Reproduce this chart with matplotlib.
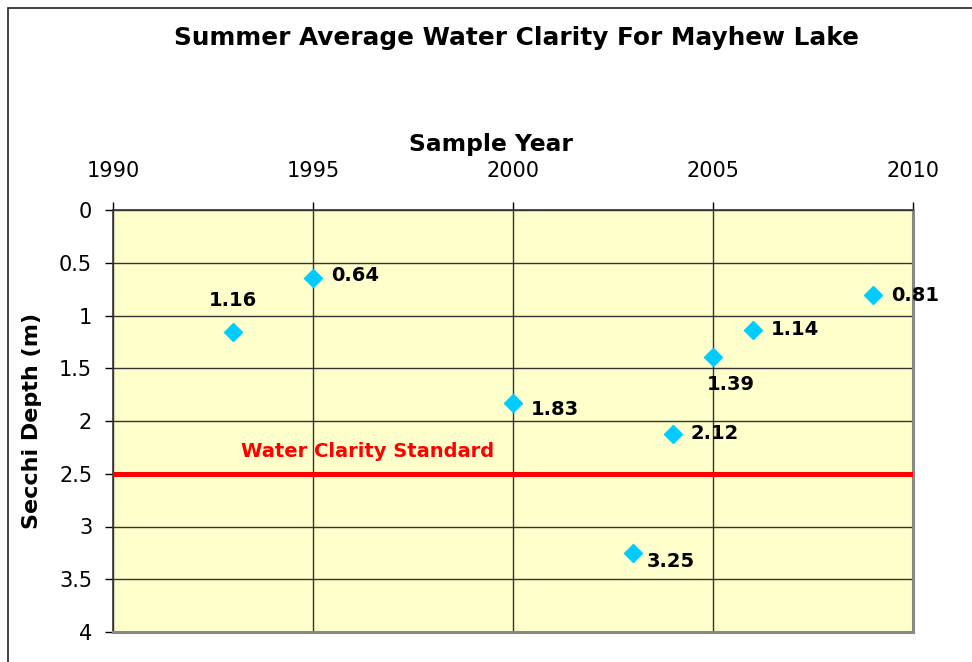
import matplotlib
matplotlib.use("Agg")
import matplotlib.pyplot as plt
from matplotlib.patches import Rectangle

plt.rcParams['font.family'] = ['DejaVu Sans']

years = [1993, 1995, 2000, 2003, 2004, 2005, 2006, 2009]
depths = [1.16, 0.64, 1.83, 3.25, 2.12, 1.39, 1.14, 0.81]
label_offsets = [(0, 32), (18, 2), (18, -6), (14, -9), (18, 0), (18, -28), (18, 1), (18, 0)]
label_ha = ['center', 'left', 'left', 'left', 'left', 'center', 'left', 'left']
standard = 2.5
x_ticks = [1990, 1995, 2000, 2005, 2010]
y_ticks = [0, 0.5, 1, 1.5, 2, 2.5, 3, 3.5, 4]
y_tick_labels = ['0', '0.5', '1', '1.5', '2', '2.5', '3', '3.5', '4']

W, H = 972, 662
fig = plt.figure(figsize=(W / 100, H / 100), dpi=100)
fig.patch.set_facecolor('white')

# outer chart border (left and top visible)
fig.patches.append(Rectangle((8 / W, -0.1), 1.2, (H - 8) / H + 0.1,
                             transform=fig.transFigure, fill=False,
                             edgecolor='#222222', linewidth=1.2, zorder=0))

ax = fig.add_axes([113 / W, 1 - 632 / H, 800 / W, 422 / H])
ax.set_facecolor('#FFFFCC')
ax.set_xlim(1990, 2010)
ax.set_ylim(4, 0)
ax.set_xticks(x_ticks)
ax.set_yticks(y_ticks)
ax.set_yticklabels(y_tick_labels)
ax.xaxis.tick_top()
ax.xaxis.set_label_position('top')
ax.tick_params(axis='x', direction='out', length=6, width=1, pad=15, labelsize=15, colors='black')
ax.tick_params(axis='y', direction='out', length=6, width=1, pad=9, labelsize=15, colors='black')
ax.grid(True, color='#333333', linewidth=1)
ax.set_axisbelow(True)

for side in ['top', 'left']:
    ax.spines[side].set_color('#333333')
    ax.spines[side].set_linewidth(1.2)
for side in ['right', 'bottom']:
    ax.spines[side].set_color('#888888')
    ax.spines[side].set_linewidth(2.2)

ax.axhline(standard, color='#FF0000', linewidth=3.6, zorder=3)
ax.text(1993.2, standard - 0.12, 'Water Clarity Standard', color='#FF0000',
        fontsize=14, fontweight='bold', ha='left', va='bottom', zorder=4)

ax.plot(years, depths, linestyle='none', marker='D', markersize=9,
        color='#00CCFF', markeredgecolor='#00CCFF', zorder=5, clip_on=False)

for x, y, off, ha in zip(years, depths, label_offsets, label_ha):
    ax.annotate(f'{y:.2f}', (x, y), xytext=off, textcoords='offset pixels',
                ha=ha, va='center', fontsize=14, fontweight='bold', color='black', zorder=6)

ax.set_xlabel('Sample Year', fontsize=16.8, fontweight='bold', labelpad=7)
ax.xaxis.label.set_x((491 - 113) / 800)
ax.set_ylabel('Secchi Depth (m)', fontsize=16, fontweight='bold', labelpad=12)

fig.text(517 / W, 1 - 38 / H, 'Summer Average Water Clarity For Mayhew Lake',
         ha='center', va='center', fontsize=17.8, fontweight='bold')

fig.savefig('out.png', dpi=100)
